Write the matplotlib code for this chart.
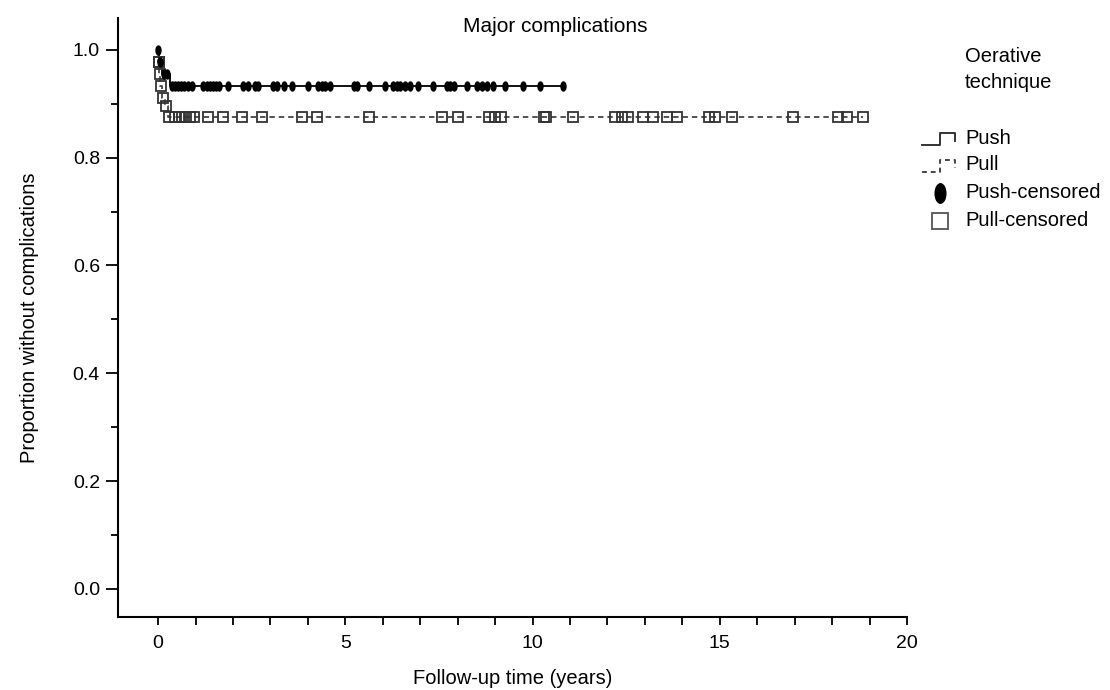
import numpy as np
import matplotlib
matplotlib.use("Agg")
import matplotlib.pyplot as plt
from matplotlib.path import Path
from matplotlib.transforms import Affine2D

plt.rcParams['font.family'] = ['Liberation Sans', 'DejaVu Sans']

# Kaplan-Meier steps (time in years, proportion without complications)
push_event_t = [0.0, 0.02, 0.10, 0.32]
push_event_s = [1.0, 0.978, 0.955, 0.933]
pull_event_t = [0.0, 0.01, 0.03, 0.06, 0.10, 0.18, 0.27]
pull_event_s = [1.0, 0.978, 0.955, 0.933, 0.911, 0.895, 0.876]

push_censored = [0.0, 0.05, 0.15, 0.25, 0.37, 0.45, 0.54, 0.62, 0.68, 0.80, 0.90,
                 1.21, 1.30, 1.38, 1.46, 1.55, 1.64, 1.88, 2.28, 2.41, 2.59, 2.68,
                 3.08, 3.17, 3.35, 3.57, 4.01, 4.28, 4.37, 4.46, 4.59, 5.22, 5.30,
                 5.62, 6.06, 6.28, 6.37, 6.46, 6.60, 6.73, 6.95, 7.35, 7.71, 7.80,
                 7.89, 8.24, 8.51, 8.64, 8.78, 8.95, 9.27, 9.75, 10.20, 10.82]
pull_censored = [0.015, 0.02, 0.045, 0.08, 0.14, 0.22, 0.30, 0.45, 0.55, 0.65, 0.75,
                 0.85, 0.95, 1.34, 1.74, 2.23, 2.77, 3.84, 4.24, 5.62, 7.58, 8.02,
                 8.85, 9.00, 9.15, 10.30, 10.36, 11.07, 12.20, 12.38, 12.56, 12.96,
                 13.22, 13.58, 13.85, 14.70, 14.87, 15.32, 16.96, 18.17, 18.39, 18.83]


def km_level(event_t, event_s, t):
    idx = np.searchsorted(event_t, t, side='right') - 1
    return np.array(event_s)[idx]


fig = plt.figure(figsize=(11.1, 6.9), dpi=100)
ax = fig.add_axes([118 / 1110, 1 - 617 / 690, 789 / 1110, 599 / 690])

# step lines
pt = push_event_t + [max(push_censored)]
ps = push_event_s + [push_event_s[-1]]
ax.step(pt, ps, where='post', color='black', lw=1.3, zorder=3)
qt = pull_event_t + [max(pull_censored)]
qs = pull_event_s + [pull_event_s[-1]]
ax.step(qt, qs, where='post', color='#444444', lw=1.3, dashes=(3, 2.2), zorder=2)

# censor marks
ellipse = Path.unit_circle().transformed(Affine2D().scale(0.55, 1.0))
ax.plot(push_censored, km_level(push_event_t, push_event_s, push_censored),
        ls='none', marker=ellipse, ms=6.5, color='black', zorder=4)
ax.plot(pull_censored, km_level(pull_event_t, pull_event_s, pull_censored),
        ls='none', marker='s', ms=7, mfc='none', mec='#333333', mew=1.3, zorder=3)

ax.set_xlim(-1.07, 20)
ax.set_ylim(-0.052, 1.059)
ax.set_xticks([0, 5, 10, 15, 20])
ax.set_xticks(np.arange(0, 21, 1), minor=True)
ax.set_yticks([0.0, 0.2, 0.4, 0.6, 0.8, 1.0])
ax.set_yticks(np.arange(0.1, 1.0, 0.2), minor=True)
ax.set_yticklabels(['0.0', '0.2', '0.4', '0.6', '0.8', '1.0'])
ax.tick_params(axis='x', which='both', length=6, width=1.3, labelsize=14, pad=7)
ax.tick_params(axis='y', which='major', length=9, width=1.3, labelsize=14, pad=4)
ax.tick_params(axis='y', which='minor', length=5, width=1.3)
for s in ['top', 'right']:
    ax.spines[s].set_visible(False)
for s in ['left', 'bottom']:
    ax.spines[s].set_linewidth(1.5)
ax.set_xlabel('Follow-up time (years)', fontsize=14.5, labelpad=12)
ax.set_ylabel('Proportion without complications', fontsize=14.5, labelpad=24)

fig.text(555 / 1110, 1 - 27 / 690, 'Major complications', fontsize=15,
         ha='center', va='center')

# legend drawn in pixel space
lax = fig.add_axes([0, 0, 1, 1])
lax.set_xlim(0, 1110)
lax.set_ylim(690, 0)
lax.axis('off')
lsize = 14.5
lax.text(965, 56, 'Oerative', fontsize=lsize, va='center')
lax.text(965, 83, 'technique', fontsize=lsize, va='center')
lax.plot([922, 940, 940, 955, 955], [145, 145, 133, 133, 141], color='#333333', lw=1.4)
lax.text(965, 138, 'Push', fontsize=lsize, va='center')
lax.plot([922, 940, 940, 955, 955], [172, 172, 160, 160, 168], color='#444444',
         lw=1.4, dashes=(2.5, 2))
lax.text(965, 165, 'Pull', fontsize=lsize, va='center')
lax.plot([940], [193], marker=ellipse, ms=14, color='black', ls='none')
lax.text(965, 193, 'Push-censored', fontsize=lsize, va='center')
lax.plot([940], [221], marker='s', ms=12, mfc='none', mec='#555555', mew=1.3, ls='none')
lax.text(965, 221, 'Pull-censored', fontsize=lsize, va='center')

fig.savefig('out.png', dpi=100)
